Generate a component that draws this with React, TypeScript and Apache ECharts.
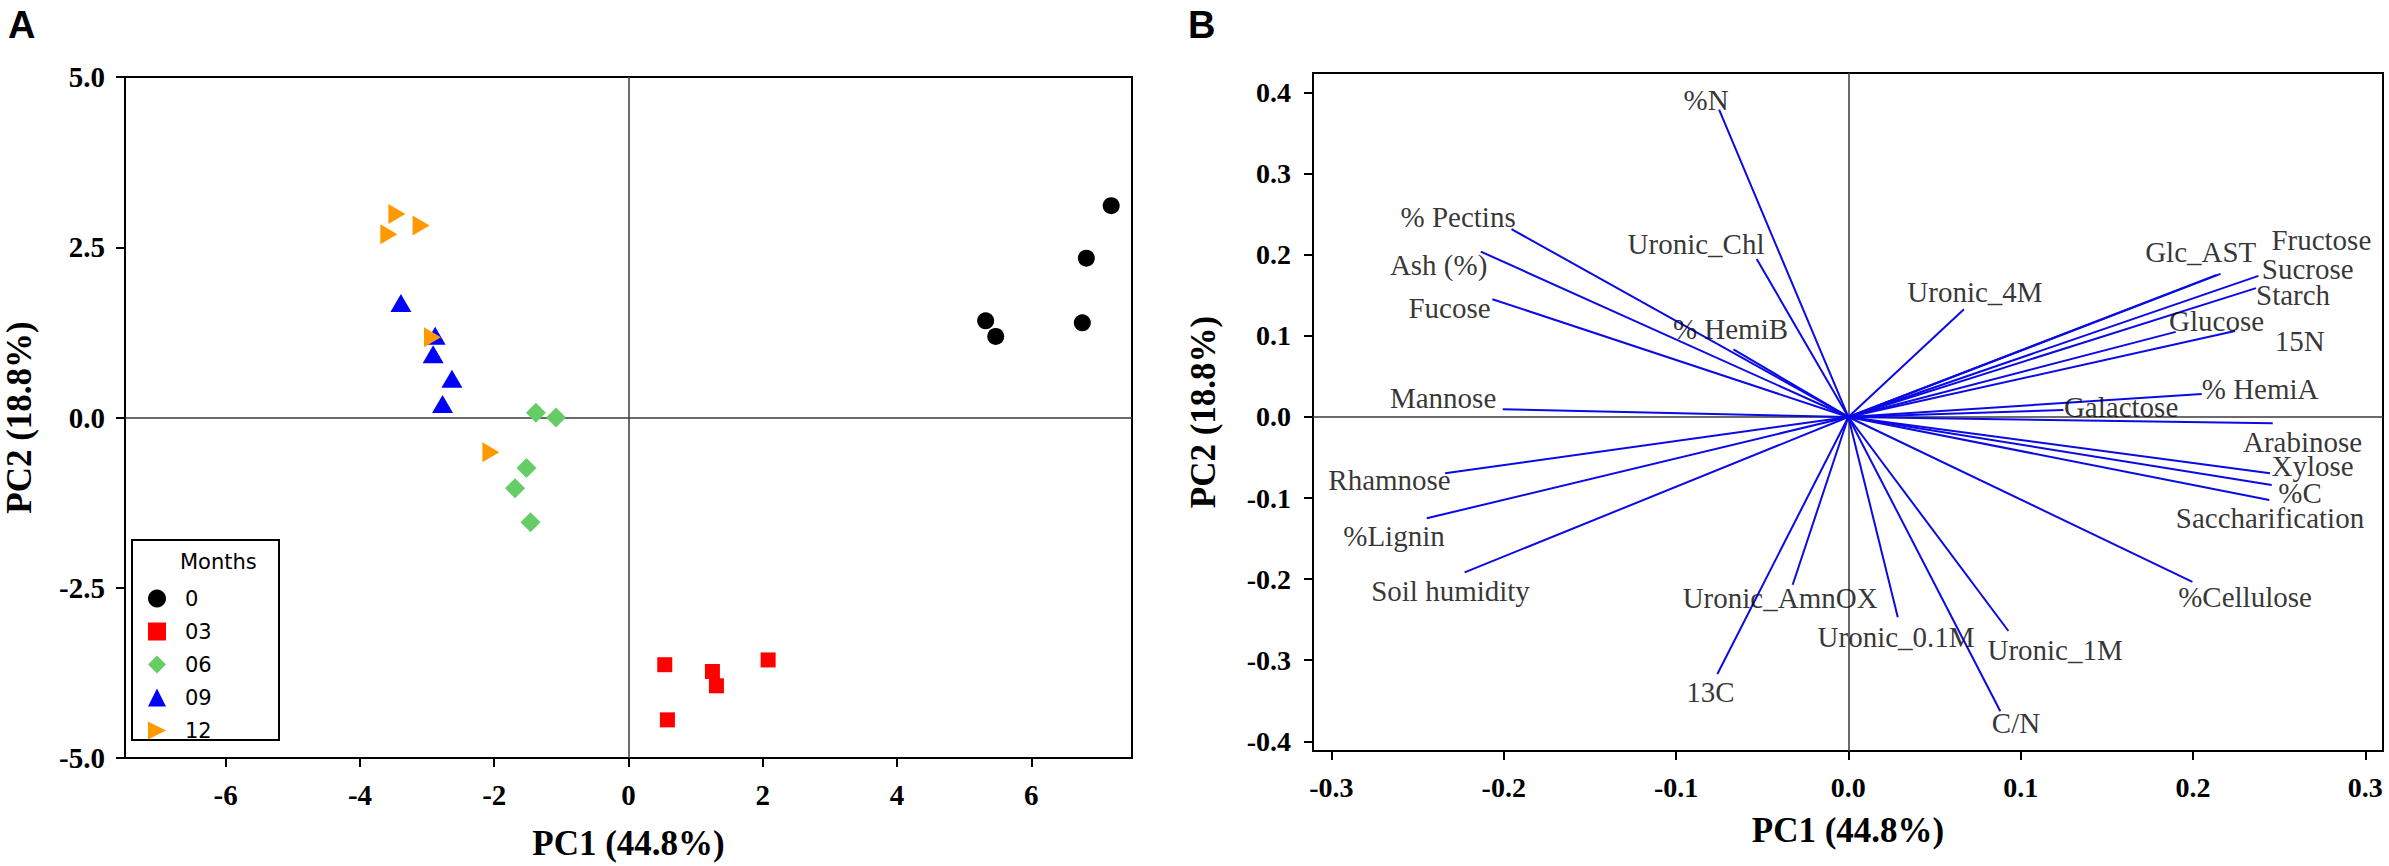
import React, { useEffect, useRef } from 'react';
import * as echarts from 'echarts';

// ---------- Panel A: PCA scores ----------
const months = ['0', '03', '06', '09', '12'];
const pc1Month0 = [5.32, 5.47, 6.76, 6.82, 7.19];
const pc2Month0 = [1.42, 1.19, 1.39, 2.34, 3.11];
const pc1Month03 = [0.54, 1.25, 1.31, 2.08, 0.58];
const pc2Month03 = [-3.63, -3.73, -3.94, -3.56, -4.44];
const pc1Month06 = [-1.38, -1.08, -1.52, -1.69, -1.46];
const pc2Month06 = [0.07, 0.0, -0.74, -1.04, -1.54];
const pc1Month09 = [-3.39, -2.88, -2.91, -2.63, -2.77];
const pc2Month09 = [1.68, 1.2, 0.93, 0.57, 0.2];
const pc1Month12 = [-3.45, -3.09, -3.57, -2.92, -2.05];
const pc2Month12 = [2.99, 2.82, 2.69, 1.18, -0.51];
const scoreXTicks = [-6, -4, -2, 0, 2, 4, 6];

// ---------- Panel B: loadings ----------
const variables = [
  '%N', '% Pectins', 'Uronic_Chl', 'Ash (%)', 'Fucose', '% HemiB', 'Uronic_4M',
  'Glc_AST', 'Fructose', 'Sucrose', 'Starch', 'Glucose', '15N', '% HemiA',
  'Galactose', 'Mannose', 'Arabinose', 'Xylose', '%C', 'Saccharification',
  'Rhamnose', '%Lignin', 'Soil humidity', '%Cellulose', 'Uronic_AmnOX',
  'Uronic_0.1M', 'Uronic_1M', '13C', 'C/N',
];
const loadingPC1 = [
  -0.075, -0.1955, -0.0532, -0.2133, -0.2066, -0.0667, 0.0671,
  0.2138, 0.216, 0.238, 0.2366, 0.19, 0.2244, 0.2051,
  0.1248, -0.2006, 0.2463, 0.2447, 0.2457, 0.2443,
  -0.234, -0.2447, -0.2227, 0.1997, -0.0323,
  0.0287, 0.0929, -0.076, 0.0882,
];
const loadingPC2 = [
  0.379, 0.2317, 0.195, 0.204, 0.1453, 0.0835, 0.133,
  0.1753, 0.1765, 0.174, 0.159, 0.105, 0.106, 0.0284,
  0.0086, 0.0095, -0.0078, -0.0695, -0.084, -0.1025,
  -0.0695, -0.125, -0.1917, -0.2033, -0.207,
  -0.247, -0.264, -0.317, -0.363,
];
// label anchors (centre of each variable name, in axis units)
const labelAnchorPC1 = [
  -0.0826, -0.2265, -0.0884, -0.2378, -0.2315, -0.0684, 0.0735,
  0.2045, 0.2745, 0.2666, 0.2581, 0.2137, 0.2619, 0.239,
  0.1583, -0.2352, 0.2636, 0.2694, 0.2622, 0.2447,
  -0.2663, -0.2637, -0.2309, 0.2302, -0.0396,
  0.0277, 0.12, -0.08, 0.0973,
];
const labelAnchorPC2 = [
  0.391, 0.247, 0.2136, 0.1877, 0.135, 0.1086, 0.1547,
  0.204, 0.2185, 0.1823, 0.1506, 0.1185, 0.0942, 0.0346,
  0.0127, 0.0231, -0.0305, -0.0605, -0.0935, -0.125,
  -0.0778, -0.1469, -0.2144, -0.2222, -0.2235,
  -0.2716, -0.2877, -0.3395, -0.3778,
];
const loadingXTicks = [-0.3, -0.2, -0.1, 0, 0.1, 0.2, 0.3];
const loadingYTicks = [-0.4, -0.3, -0.2, -0.1, 0, 0.1, 0.2, 0.3, 0.4];

const SERIF = "'Liberation Serif', 'Times New Roman', serif";
const SANS = "'Liberation Sans', Arial, sans-serif";
const LEGEND_FONT = "'DejaVu Sans', Verdana, sans-serif";

function zip(xs: number[], ys: number[]) {
  return xs.map((x, i) => [x, ys[i]]);
}

export default function App() {
  const ref = useRef<HTMLDivElement>(null);

  useEffect(() => {
    document.body.style.margin = '0';
    const chart = echarts.init(ref.current!, null, { renderer: 'svg' });

    const tickLabel = (size: number) => ({
      fontFamily: SERIF,
      fontWeight: 'bold' as const,
      fontSize: size,
      color: '#000',
    });
    const axisNameStyle = {
      fontFamily: SERIF,
      fontWeight: 'bold' as const,
      fontSize: 35,
      color: '#000',
    };
    const zeroLines = {
      silent: true,
      symbol: ['none', 'none'],
      label: { show: false },
      lineStyle: { type: 'solid', color: '#3a3a3a', width: 1.5 },
      emphasis: { disabled: true },
      data: [{ xAxis: 0 }, { yAxis: 0 }],
      z: 1,
    };

    const scoreSeries = [
      { name: months[0], x: pc1Month0, y: pc2Month0, symbol: 'circle', size: 17, color: '#000000' },
      { name: months[1], x: pc1Month03, y: pc2Month03, symbol: 'rect', size: 15, color: '#ff0000' },
      { name: months[2], x: pc1Month06, y: pc2Month06, symbol: 'diamond', size: 20, color: '#66cc66' },
      { name: months[3], x: pc1Month09, y: pc2Month09, symbol: 'triangle', size: [21, 18], color: '#0000ff' },
      { name: months[4], x: pc1Month12, y: pc2Month12, symbol: 'path://M0,0L1,0.5L0,1Z', size: [17, 20], color: '#ff9900' },
    ].map((s, i) => ({
      type: 'scatter',
      name: s.name,
      xAxisIndex: 0,
      yAxisIndex: 0,
      symbol: s.symbol,
      symbolSize: s.size,
      itemStyle: { color: s.color, opacity: 1 },
      data: zip(s.x, s.y),
      z: 10 + i,
      silent: true,
      ...(i === 0 ? { markLine: zeroLines } : {}),
    }));

    const option: any = {
      animation: false,
      backgroundColor: '#ffffff',
      grid: [
        { left: 125, top: 77, width: 1007, height: 681, show: true, borderColor: '#000', borderWidth: 2, backgroundColor: 'transparent' },
        { left: 1313, top: 73, width: 1070, height: 678, show: true, borderColor: '#000', borderWidth: 2, backgroundColor: 'transparent' },
      ],
      xAxis: [
        {
          gridIndex: 0,
          type: 'value',
          min: -7.5,
          max: 7.5,
          axisLine: { show: true, onZero: false, lineStyle: { color: '#000', width: 2 } },
          axisTick: { show: true, inside: false, length: 9, customValues: scoreXTicks, lineStyle: { color: '#000', width: 2 } },
          axisLabel: { customValues: scoreXTicks, margin: 22, formatter: (v: number) => String(v), ...tickLabel(29) },
          splitLine: { show: false },
          name: 'PC1 (44.8%)',
          nameLocation: 'middle',
          nameGap: 68,
          nameTextStyle: axisNameStyle,
        },
        {
          gridIndex: 1,
          type: 'value',
          min: -0.3107,
          max: 0.3103,
          axisLine: { show: true, onZero: false, lineStyle: { color: '#000', width: 2 } },
          axisTick: { show: true, inside: false, length: 9, customValues: loadingXTicks, lineStyle: { color: '#000', width: 2 } },
          axisLabel: { customValues: loadingXTicks, margin: 22, formatter: (v: number) => v.toFixed(1), ...tickLabel(28) },
          splitLine: { show: false },
          name: 'PC1 (44.8%)',
          nameLocation: 'middle',
          nameGap: 62,
          nameTextStyle: axisNameStyle,
        },
      ],
      yAxis: [
        {
          gridIndex: 0,
          type: 'value',
          min: -5,
          max: 5,
          interval: 2.5,
          axisLine: { show: true, onZero: false, lineStyle: { color: '#000', width: 2 } },
          axisTick: { show: true, inside: false, length: 9, lineStyle: { color: '#000', width: 2 } },
          axisLabel: { margin: 20, formatter: (v: number) => v.toFixed(1), ...tickLabel(29) },
          splitLine: { show: false },
          name: 'PC2 (18.8%)',
          nameLocation: 'middle',
          nameGap: 88,
          nameTextStyle: axisNameStyle,
        },
        {
          gridIndex: 1,
          type: 'value',
          min: -0.412,
          max: 0.4243,
          axisLine: { show: true, onZero: false, lineStyle: { color: '#000', width: 2 } },
          axisTick: { show: true, inside: false, length: 9, customValues: loadingYTicks, lineStyle: { color: '#000', width: 2 } },
          axisLabel: { customValues: loadingYTicks, margin: 22, formatter: (v: number) => v.toFixed(1), ...tickLabel(28) },
          splitLine: { show: false },
          name: 'PC2 (18.8%)',
          nameLocation: 'middle',
          nameGap: 92,
          nameTextStyle: axisNameStyle,
        },
      ],
      legend: {
        orient: 'vertical',
        left: 143,
        top: 583,
        itemWidth: 18,
        itemHeight: 18,
        itemGap: 12,
        selectedMode: false,
        data: months,
        textStyle: { fontFamily: LEGEND_FONT, fontSize: 21, color: '#000', lineHeight: 20, padding: [0, 0, 0, 14] },
        z: 20,
      },
      graphic: [
        { type: 'text', left: 8, top: 6, style: { text: 'A', font: `bold 38px ${SANS}`, fill: '#000' } },
        { type: 'text', left: 1188, top: 6, style: { text: 'B', font: `bold 38px ${SANS}`, fill: '#000' } },
        {
          type: 'rect',
          shape: { x: 132, y: 540, width: 147, height: 200 },
          style: { fill: '#fff', stroke: '#000', lineWidth: 2 },
          z: 15,
        },
        {
          type: 'text',
          x: 180,
          y: 562,
          style: { text: 'Months', font: `21px ${LEGEND_FONT}`, fill: '#000', textVerticalAlign: 'middle' },
          z: 21,
        },
      ],
      series: [
        ...scoreSeries,
        {
          type: 'lines',
          coordinateSystem: 'cartesian2d',
          xAxisIndex: 1,
          yAxisIndex: 1,
          silent: true,
          z: 6,
          lineStyle: { color: '#0a0ae6', width: 2, opacity: 1 },
          data: variables.map((n, i) => ({ name: n, coords: [[0, 0], [loadingPC1[i], loadingPC2[i]]] })),
          markLine: zeroLines,
        },
        {
          type: 'scatter',
          xAxisIndex: 1,
          yAxisIndex: 1,
          silent: true,
          z: 8,
          symbolSize: 0,
          label: {
            show: true,
            position: 'inside',
            formatter: (p: any) => p.name,
            fontFamily: SERIF,
            fontSize: 29,
            lineHeight: 21,
            color: '#000',
          },
          data: variables.map((n, i) => ({ name: n, value: [labelAnchorPC1[i], labelAnchorPC2[i]] })),
        },
      ],
    };

    chart.setOption(option);
    return () => chart.dispose();
  }, []);

  return (
    <div
      ref={ref}
      style={{ position: 'absolute', left: 0, top: 0, width: 2389, height: 866, background: '#fff' }}
    />
  );
}
